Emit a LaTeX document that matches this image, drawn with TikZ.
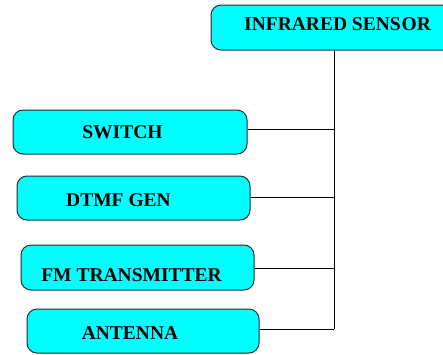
\documentclass[tikz,border=0pt]{standalone}
\usepackage{fontspec}
\setmainfont{Liberation Serif}[BoldFont={Liberation Serif Bold}]
\definecolor{boxcyan}{RGB}{0,255,255}
\definecolor{boxline}{RGB}{40,40,40}
\begin{document}
\begin{tikzpicture}[x=1pt,y=-1pt,
  blk/.style={draw=boxline,line width=1pt,fill=boxcyan,rounded corners=10pt,inner sep=0pt},
  lbl/.style={inner sep=0pt,font=\fontsize{19.5}{21}\selectfont\bfseries},
  wire/.style={draw=black,line width=1pt}]
\useasboundingbox (0,0) rectangle (443,354);
\node[blk,minimum width=269pt,minimum height=45pt] (ir) at (345.5,27.5) {};
\node[lbl,anchor=west] (irt) at (244,24.5) {INFRARED SENS\kern1pt OR};
\node[blk,minimum width=234pt,minimum height=44pt] (sw) at (130,132) {};
\node[lbl] (swt) at (122.5,132) {SWITCH};
\node[blk,minimum width=233pt,minimum height=44pt] (dt) at (133.5,198) {};
\node[lbl] (dtt) at (118.5,200) {DTMF GEN};
\node[blk,minimum width=233pt,minimum height=45pt] (fm) at (137.5,267.5) {};
\node[lbl] (fmt) at (131.5,275) {FM TRANSMITTER};
\node[blk,minimum width=232pt,minimum height=44pt] (an) at (143,331) {};
\node[lbl] (ant) at (130,333) {ANTENNA};
\coordinate (bus) at (334,0);
\draw[wire] (ir.south -| bus) -- (bus |- 0,329);
\draw[wire] (sw.east |- 0,129) -- (bus |- 0,129);
\draw[wire] (dt.east |- 0,197) -- (bus |- 0,197);
\draw[wire] (fm.east |- 0,268) -- (bus |- 0,268);
\draw[wire] (an.east |- 0,329) -- (bus |- 0,329);
\end{tikzpicture}
\end{document}
